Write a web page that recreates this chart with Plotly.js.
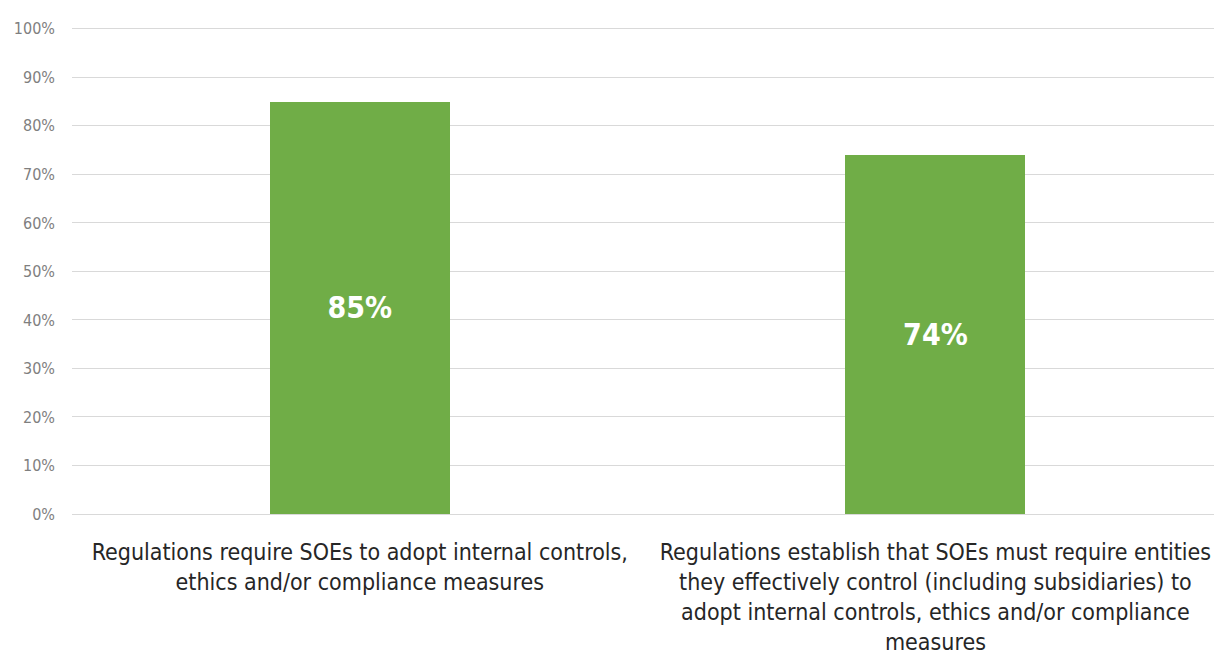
<!DOCTYPE html>
<html>
<head>
<meta charset="utf-8">
<script src="https://cdn.plot.ly/plotly-3.0.1.min.js"></script>
<style>html,body{margin:0;padding:0;background:#fff;}#chart{width:1214px;height:662px;}</style>
</head>
<body>
<div id="chart"></div>
<script>
const categories = [
  "Regulations require SOEs to adopt internal controls,<br>ethics and/or compliance measures",
  "Regulations establish that SOEs must require entities<br>they effectively control (including subsidiaries) to<br>adopt internal controls, ethics and/or compliance<br>measures"
];
const values = [85, 74];
const tickVals = [0, 10, 20, 30, 40, 50, 60, 70, 80, 90, 100];
const tickText = tickVals.map(v => v + "%");

const FONT = '"Liberation Sans Narrow", "Arial Narrow", "DejaVu Sans Condensed", "Liberation Sans", Arial, sans-serif';

const trace = {
  type: 'bar',
  x: [0, 1],
  y: values,
  width: 0.313,
  marker: {color: '#70AD47'},
  text: values.map(v => '<b>' + v + '%</b>'),
  textposition: 'inside',
  insidetextanchor: 'middle',
  textangle: 0,
  textfont: {family: FONT, size: 30, color: '#ffffff'},
  hoverinfo: 'none'
};

const layout = {
  width: 1214, height: 662,
  margin: {l: 72, r: 0, t: 24, b: 148, pad: 0},
  paper_bgcolor: '#ffffff', plot_bgcolor: '#ffffff',
  showlegend: false,
  bargap: 0,
  xaxis: {
    range: [-0.5, 1.484],
    tickmode: 'array',
    tickvals: [0, 1],
    ticktext: categories,
    tickfont: {family: FONT, size: 23, color: '#262626'},
    showgrid: false, zeroline: false, showline: false, ticks: '',
    ticklabelstandoff: 22,
    ticklabeloverflow: 'allow',
    fixedrange: true
  },
  yaxis: {
    range: [0, 101],
    tickmode: 'array',
    tickvals: tickVals,
    ticktext: tickText,
    tickfont: {family: FONT, size: 16, color: '#7f7f7f'},
    showgrid: true, gridcolor: '#d9d9d9', gridwidth: 1,
    zeroline: true, zerolinecolor: '#d9d9d9', zerolinewidth: 1,
    showline: false, ticks: '',
    ticklabelstandoff: 16,
    fixedrange: true
  }
};

Plotly.newPlot('chart', [trace], layout, {displayModeBar: false, staticPlot: true});
</script>
</body>
</html>
